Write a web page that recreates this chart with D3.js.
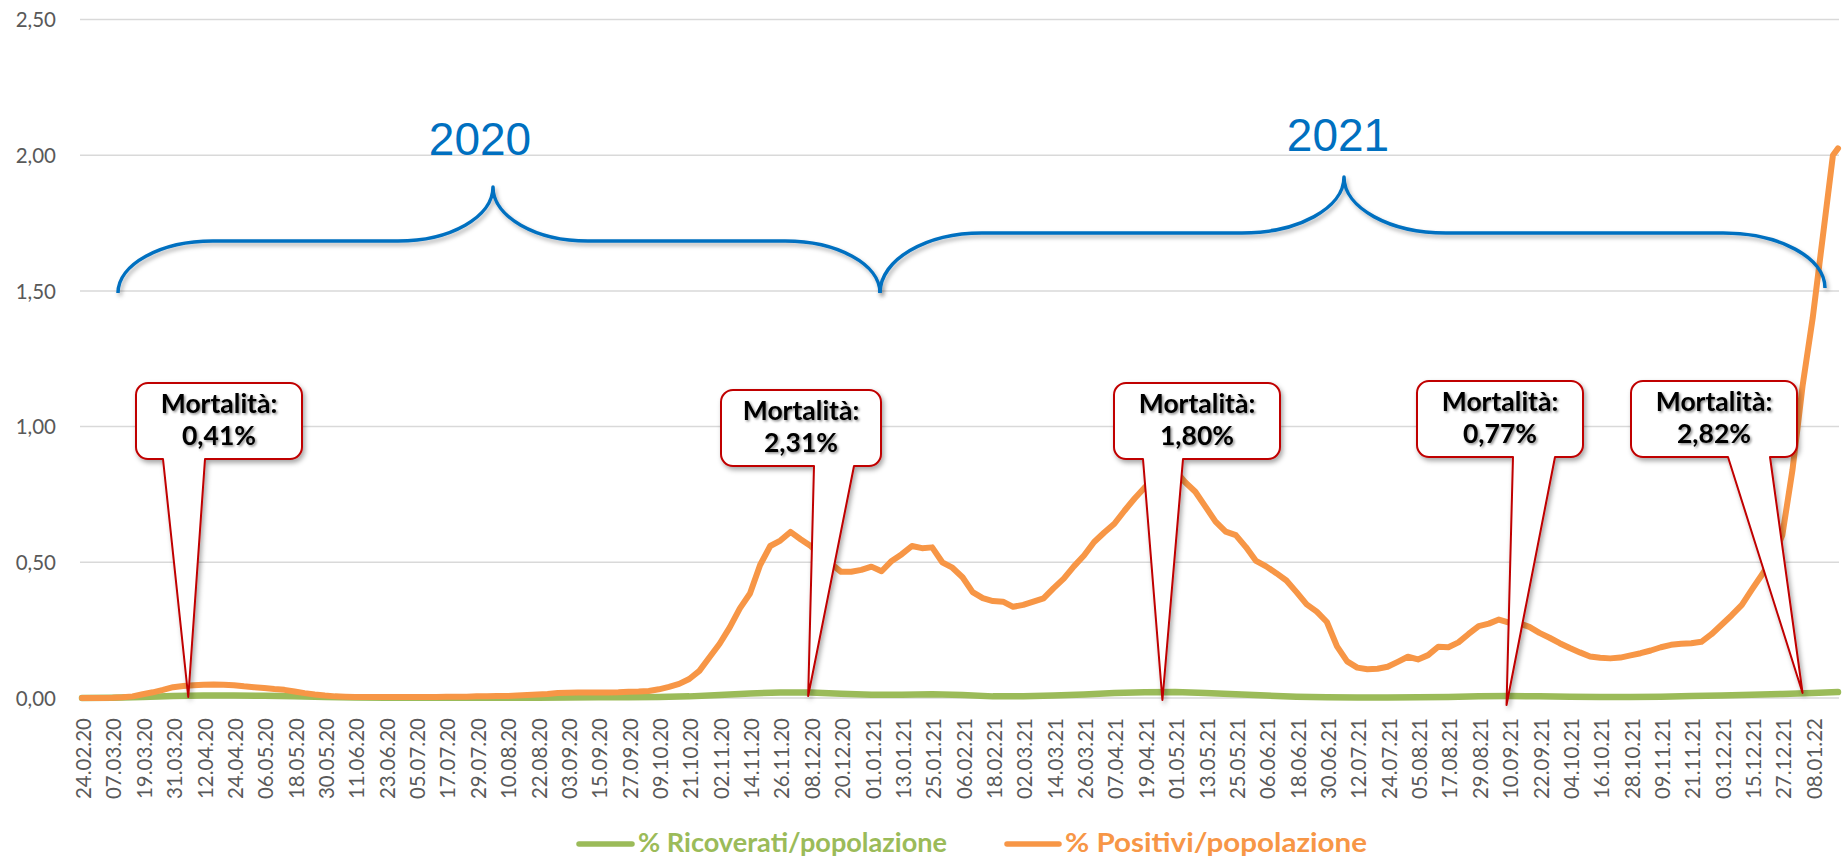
<!DOCTYPE html>
<html>
<head>
<meta charset="utf-8">
<script src="https://cdn.jsdelivr.net/npm/d3@7"></script>
<style>
  html, body { margin: 0; padding: 0; background: #ffffff; }
  svg { display: block; }
</style>
</head>
<body>
<svg id="chart" width="1845" height="857"></svg>
<script>
// ---------------- DATA ----------------
const primaData = "24.02.20";
const ultimaData = "18.01.22";
const passoPositivi = 4;     // days between values of positivi
const passoRicoverati = 12;  // days between values of ricoverati

// % Positivi/popolazione (one value every 4 days, last one = ultimaData)
const positivi = [
  0, 0, 0, 0.001, 0.003, 0.006, 0.014, 0.021, 0.03, 0.04, 0.044, 0.047,
  0.049, 0.05, 0.049, 0.047, 0.043, 0.04, 0.037, 0.033, 0.03, 0.024, 0.018, 0.013,
  0.009, 0.006, 0.005, 0.004, 0.004, 0.004, 0.004, 0.004, 0.004, 0.004, 0.004, 0.004,
  0.005, 0.005, 0.005, 0.006, 0.006, 0.007, 0.007, 0.009, 0.011, 0.013, 0.015, 0.018,
  0.019, 0.02, 0.02, 0.02, 0.02, 0.021, 0.023, 0.024, 0.026, 0.032, 0.041, 0.052,
  0.07, 0.1, 0.15, 0.2, 0.26, 0.33, 0.385, 0.49, 0.56, 0.58, 0.612, 0.585,
  0.56, 0.525, 0.495, 0.465, 0.465, 0.472, 0.484, 0.467, 0.505, 0.53, 0.56, 0.552,
  0.555, 0.5, 0.48, 0.445, 0.39, 0.368, 0.357, 0.355, 0.336, 0.343, 0.355, 0.367,
  0.405, 0.44, 0.485, 0.525, 0.575, 0.61, 0.642, 0.69, 0.735, 0.776, 0.8, 0.825,
  0.838, 0.795, 0.76, 0.705, 0.65, 0.613, 0.6, 0.556, 0.505, 0.485, 0.46, 0.433,
  0.39, 0.345, 0.318, 0.28, 0.19, 0.135, 0.112, 0.106, 0.108, 0.115, 0.133, 0.152,
  0.142, 0.158, 0.189, 0.187, 0.205, 0.236, 0.265, 0.274, 0.289, 0.278, 0.275, 0.262,
  0.24, 0.222, 0.202, 0.184, 0.168, 0.153, 0.148, 0.146, 0.149, 0.157, 0.165, 0.175,
  0.187, 0.196, 0.2, 0.202, 0.207, 0.235, 0.27, 0.305, 0.343, 0.4, 0.455, 0.51,
  0.6, 0.84, 1.15, 1.4, 1.7, 2.0, 2.025
];

// % Ricoverati/popolazione (one value every 12 days, last one = ultimaData)
const ricoverati = [
  0, 0.001, 0.004, 0.007, 0.009, 0.009, 0.008, 0.006, 0.004, 0.002, 0.001, 0.001,
  0.001, 0.001, 0.001, 0.001, 0.002, 0.003, 0.003, 0.004, 0.006, 0.011, 0.017, 0.02,
  0.02, 0.016, 0.012, 0.012, 0.014, 0.011, 0.006, 0.006, 0.009, 0.013, 0.018, 0.021,
  0.022, 0.018, 0.014, 0.009, 0.005, 0.003, 0.002, 0.002, 0.003, 0.004, 0.006, 0.007,
  0.006, 0.005, 0.004, 0.004, 0.005, 0.007, 0.009, 0.012, 0.015, 0.018, 0.022
];

const tickLabels = [
  "24.02.20","07.03.20","19.03.20","31.03.20","12.04.20","24.04.20","06.05.20","18.05.20",
  "30.05.20","11.06.20","23.06.20","05.07.20","17.07.20","29.07.20","10.08.20","22.08.20",
  "03.09.20","15.09.20","27.09.20","09.10.20","21.10.20","02.11.20","14.11.20","26.11.20",
  "08.12.20","20.12.20","01.01.21","13.01.21","25.01.21","06.02.21","18.02.21","02.03.21",
  "14.03.21","26.03.21","07.04.21","19.04.21","01.05.21","13.05.21","25.05.21","06.06.21",
  "18.06.21","30.06.21","12.07.21","24.07.21","05.08.21","17.08.21","29.08.21","10.09.21",
  "22.09.21","04.10.21","16.10.21","28.10.21","09.11.21","21.11.21","03.12.21","15.12.21",
  "27.12.21","08.01.22"
];

const yTicks = [0, 0.5, 1, 1.5, 2, 2.5];

const serieNomi = ["% Ricoverati/popolazione", "% Positivi/popolazione"];

const mortalitaValori = ["0,41%", "2,31%", "1,80%", "0,77%", "2,82%"];
const mortalitaDate = ["06.04.20", "07.12.20", "26.04.21", "09.09.21", "04.01.22"];

const anni = ["2020", "2021"];

// ---------------- LAYOUT ----------------
const colori = { verde: "#9BBB59", arancio: "#F79646", griglia: "#D9D9D9", testo: "#595959",
                 rosso: "#C00000", blu: "#0070C0" };

// callout boxes: left, top, width, height, pointer base left/right (px), tip y offset from axis
const calloutLayout = [
  { x0: 136, y0: 383, w: 166, h: 76, b1: 163, b2: 205, dy: -1 },
  { x0: 721, y0: 390, w: 160, h: 76, b1: 814, b2: 854, dy: -2 },
  { x0: 1114, y0: 383, w: 166, h: 76, b1: 1143, b2: 1183, dy: 2 },
  { x0: 1417, y0: 381, w: 166, h: 76, b1: 1513, b2: 1555, dy: 7 },
  { x0: 1631, y0: 381, w: 166, h: 76, b1: 1728, b2: 1770, dy: -5 }
];

// braces: left end, cusp, right end, flat level, cusp top
const braceLayout = [
  { xL: 118, yL: 293, xC: 493, yC: 187, xR: 880, yR: 293, yF: 241, rx: 95, tx: 480, ty: 155 },
  { xL: 880, yL: 293, xC: 1344, yC: 177, xR: 1825, yR: 288, yF: 233, rx: 102, tx: 1338, ty: 151 }
];

// ---------------- CHART ----------------
const parse = d3.utcParse("%d.%m.%y");
const fmt = d3.utcFormat("%d.%m.%y");
const start = parse(primaData);
const end = parse(ultimaData);
const lastDay = d3.utcDay.count(start, end);

const svg = d3.select("#chart");
const defs = svg.append("defs");

function shadow(id, dx, dy, sd, op) {
  const f = defs.append("filter").attr("id", id)
    .attr("x", "-20%").attr("y", "-20%").attr("width", "140%").attr("height", "140%");
  f.append("feDropShadow").attr("dx", dx).attr("dy", dy).attr("stdDeviation", sd)
    .attr("flood-color", "#000").attr("flood-opacity", op);
}
shadow("shBrace", 2, 3, 2, 0.3);
shadow("shBox", 2, 3, 2.5, 0.35);
shadow("shText", 1.5, 1.5, 1.2, 0.45);

const x = d3.scaleUtc().domain([start, end]).range([82, 1838]);
const y = d3.scaleLinear().domain([0, 2.5]).range([698, 19.5]);

// gridlines
svg.append("g").selectAll("line").data(yTicks).join("line")
  .attr("x1", 80).attr("x2", 1839)
  .attr("y1", d => y(d)).attr("y2", d => y(d))
  .attr("stroke", colori.griglia).attr("stroke-width", 1.5);

// y axis
const yAxis = svg.append("g").attr("transform", "translate(56,0)")
  .call(d3.axisLeft(y).tickValues(yTicks).tickSize(0).tickPadding(0)
    .tickFormat(d => d3.format(".2f")(d).replace(".", ",")));
yAxis.select(".domain").remove();
yAxis.selectAll("text").attr("fill", colori.testo)
  .style("font-family", "Lato, sans-serif").style("font-size", "20.5px").attr("dy", "0.36em");

// x axis
const tickDates = tickLabels.map(parse);
const xAxis = svg.append("g").attr("transform", "translate(0,718)")
  .call(d3.axisBottom(x).tickValues(tickDates).tickSize(0).tickFormat(fmt));
xAxis.select(".domain").remove();
xAxis.selectAll("text")
  .attr("x", 0).attr("y", 0).attr("dy", "0.42em")
  .attr("transform", "rotate(-90)")
  .style("text-anchor", "end")
  .attr("fill", colori.testo)
  .style("font-family", "Lato, sans-serif").style("font-size", "20.5px");

// series
const serieRic = ricoverati.map((v, i) => ({ date: d3.utcDay.offset(start, Math.min(i * passoRicoverati, lastDay)), v }));
const seriePos = positivi.map((v, i) => ({ date: d3.utcDay.offset(start, Math.min(i * passoPositivi, lastDay)), v }));
const line = d3.line().x(d => x(d.date)).y(d => y(d.v));

svg.append("path").datum(serieRic).attr("d", line)
  .attr("fill", "none").attr("stroke", colori.verde).attr("stroke-width", 6.5)
  .attr("stroke-linejoin", "round").attr("stroke-linecap", "round");
svg.append("path").datum(seriePos).attr("d", line)
  .attr("fill", "none").attr("stroke", colori.arancio).attr("stroke-width", 6)
  .attr("stroke-linejoin", "round").attr("stroke-linecap", "round");

// braces
const K = 0.5523;
function bracePath(b) {
  const ryL = b.yL - b.yF, ryC = b.yF - b.yC, ryR = b.yR - b.yF, r = b.rx;
  return `M${b.xL},${b.yL}` +
    `C${b.xL},${b.yL - K * ryL} ${b.xL + r - K * r},${b.yF} ${b.xL + r},${b.yF}` +
    `H${b.xC - r}` +
    `C${b.xC - r + K * r},${b.yF} ${b.xC},${b.yC + K * ryC} ${b.xC},${b.yC}` +
    `C${b.xC},${b.yC + K * ryC} ${b.xC + r - K * r},${b.yF} ${b.xC + r},${b.yF}` +
    `H${b.xR - r}` +
    `C${b.xR - r + K * r},${b.yF} ${b.xR},${b.yR - K * ryR} ${b.xR},${b.yR}`;
}
const gB = svg.append("g");
gB.selectAll("path").data(braceLayout).join("path")
  .attr("d", bracePath).attr("fill", "none").attr("stroke", colori.blu)
  .attr("stroke-width", 3.5).attr("stroke-linejoin", "round").attr("filter", "url(#shBrace)");
gB.selectAll("text").data(braceLayout).join("text")
  .attr("x", d => d.tx).attr("y", d => d.ty).attr("text-anchor", "middle")
  .attr("fill", colori.blu).style("font-family", "'Liberation Sans', Arial, sans-serif")
  .style("font-size", "46px").text((d, i) => anni[i]);

// callouts
function calloutPath(c, tipX, tipY) {
  const r = 12, x0 = c.x0, y0 = c.y0, x1 = c.x0 + c.w, y1 = c.y0 + c.h;
  return `M${x0 + r},${y0}H${x1 - r}A${r},${r} 0 0 1 ${x1},${y0 + r}V${y1 - r}` +
    `A${r},${r} 0 0 1 ${x1 - r},${y1}H${c.b2}L${tipX},${tipY}L${c.b1},${y1}H${x0 + r}` +
    `A${r},${r} 0 0 1 ${x0},${y1 - r}V${y0 + r}A${r},${r} 0 0 1 ${x0 + r},${y0}Z`;
}
const gC = svg.append("g");
mortalitaValori.forEach((val, i) => {
  const c = calloutLayout[i];
  const tipX = x(parse(mortalitaDate[i]));
  const tipY = y(0) + c.dy;
  gC.append("path").attr("d", calloutPath(c, tipX, tipY))
    .attr("fill", "#ffffff").attr("stroke", colori.rosso).attr("stroke-width", 2)
    .attr("stroke-linejoin", "round").attr("filter", "url(#shBox)");
  const t = gC.append("text").attr("text-anchor", "middle").attr("fill", "#000")
    .style("font-family", "Lato, sans-serif").style("font-weight", "bold").style("font-size", "26.5px")
    .attr("filter", "url(#shText)");
  t.append("tspan").attr("x", c.x0 + c.w / 2).attr("y", c.y0 + 30).text("Mortalità:");
  t.append("tspan").attr("x", c.x0 + c.w / 2).attr("y", c.y0 + 62).text(val);
});

// legend
const legendItems = [
  { nome: serieNomi[0], col: colori.verde, lx1: 579, lx2: 632, tx: 638, len: 309 },
  { nome: serieNomi[1], col: colori.arancio, lx1: 1007, lx2: 1059, tx: 1065, len: 302 }
];
const gL = svg.append("g");
legendItems.forEach(it => {
  gL.append("line").attr("x1", it.lx1).attr("x2", it.lx2).attr("y1", 844).attr("y2", 844)
    .attr("stroke", it.col).attr("stroke-width", 5.5).attr("stroke-linecap", "round");
  gL.append("text").attr("x", it.tx).attr("y", 852).attr("fill", it.col)
    .attr("textLength", it.len).attr("lengthAdjust", "spacingAndGlyphs")
    .style("font-family", "Lato, sans-serif").style("font-weight", "bold").style("font-size", "27px")
    .text(it.nome);
});
</script>
</body>
</html>
